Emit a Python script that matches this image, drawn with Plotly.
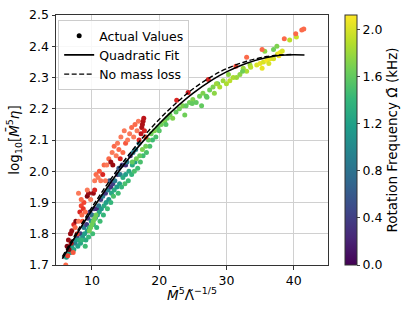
import plotly.graph_objects as go

# ---- red-coloured group (x, y, colour value on Reds scale) ----
red_x = [6.1, 6.3, 6.5, 6.6, 6.8, 6.9, 7.0, 6.4, 7.2, 7.3, 7.5, 7.6, 7.8, 8.0, 8.2, 8.4, 8.5, 8.7, 8.8, 8.6,
         9.0, 9.3, 9.5, 9.8, 10.2, 10.4, 10.6, 10.9, 11.1, 11.3, 11.6, 11.8, 12.0, 12.2, 12.5, 12.8, 13.0, 13.3,
         13.6, 13.8, 14.0, 14.2, 14.3, 14.6, 14.8, 15.0, 15.3, 15.6, 15.9, 16.2, 16.4, 16.7, 16.9, 17.0, 17.3,
         17.4, 17.5, 17.6, 17.7, 17.8, 18.0, 8.0, 8.4, 10.4, 13.1, 9.3,
         22.6, 24.3, 27.3, 31.4, 33.0, 35.3, 38.6, 40.3, 41.2, 41.5]
red_y = [1.70, 1.76, 1.78, 1.75, 1.80, 1.77, 1.81, 1.73, 1.74, 1.83, 1.82, 1.84, 1.80, 1.84, 1.87, 1.89, 1.86, 1.88, 1.90, 1.84,
         1.87, 1.92, 1.93, 1.91, 1.93, 1.97, 1.99, 1.98, 2.00, 1.97, 1.99, 2.02, 1.97, 2.02, 2.04, 2.03, 2.06, 2.08,
         2.05, 2.09, 2.07, 2.04, 2.11, 2.06, 2.13, 2.09, 2.10, 2.12, 2.14, 2.11, 2.15, 2.13, 2.16, 2.10, 2.12,
         2.14, 2.15, 2.16, 2.17, 2.13, 2.11, 1.93, 1.91, 1.94, 2.02, 1.94,
         2.227, 2.252, 2.294, 2.336, 2.365, 2.390, 2.424, 2.440, 2.452, 2.455]
red_v = [0.5, 0.95, 0.9, 0.95, 0.9, 0.85, 0.9, 0.6, 0.55, 0.7, 0.5, 0.95, 0.6, 0.45, 0.7, 0.6, 0.5, 0.65, 0.6, 0.55,
         0.5, 0.95, 0.9, 0.45, 0.9, 0.45, 0.5, 0.45, 0.55, 0.45, 0.7, 0.5, 0.45, 0.45, 0.5, 0.9, 0.45, 0.5,
         0.45, 0.45, 0.5, 0.7, 0.45, 0.5, 0.45, 0.55, 0.45, 0.45, 0.5, 0.45, 0.5, 0.45, 0.45, 0.7, 0.8,
         0.85, 0.85, 0.85, 0.8, 0.7, 0.6, 0.45, 0.5, 0.7, 0.9, 0.45,
         0.7, 0.75, 0.7, 0.6, 0.5, 0.5, 0.5, 0.5, 0.5, 0.5]

# ---- rotating group (x, y, rotation frequency in kHz) ----
rot_x = [7.5, 7.8, 8.3, 8.8, 9.2, 9.4, 9.7, 10.0, 10.3, 10.7, 11.0, 11.3, 11.6, 12.0, 12.4, 12.8, 13.1, 13.4, 13.8,
         14.2, 14.5, 15.0, 15.2, 15.7, 16.1, 16.5, 17.0, 14.0, 12.6,
         6.8, 7.0, 7.3, 7.6, 7.9, 8.1, 8.3, 8.6, 8.9, 9.1, 9.3, 9.6, 9.9, 10.2, 10.5, 10.8, 11.1, 11.4, 11.8,
         12.1, 12.5, 12.9, 13.3, 13.7, 14.1, 14.6, 15.0, 15.5, 16.0, 16.4, 6.2, 6.5,
         8.5, 9.0, 9.5, 10.1, 10.7, 11.2, 11.7, 12.3, 12.8, 13.2, 13.9, 14.4, 14.9, 15.4, 15.9, 16.3, 16.8,
         17.2, 17.6, 18.1, 18.6, 19.0, 19.5,
         9.6, 9.8, 10.0, 10.2, 10.4, 10.6,
         16.0, 16.6, 17.1, 17.5, 18.0, 18.4, 18.8, 19.3, 19.8, 20.3, 20.8, 21.2, 21.6, 22.0, 22.5, 23.0, 23.5,
         24.0, 24.5, 25.0, 25.5, 26.0, 26.5, 27.0, 27.5, 28.0, 21.0, 20.0, 23.8, 26.3, 27.1, 28.7, 24.9,
         28.5, 29.0, 29.5, 30.0, 30.5, 31.0, 31.5, 32.0, 32.5, 33.0, 33.5, 28.2, 30.3, 32.4,
         34.5, 35.0, 35.5, 36.0, 36.5, 37.0, 35.3, 36.3, 37.6, 38.0, 38.3, 37.8, 39.4, 40.4, 37.5, 35.7,
         37.0, 33.6]
rot_y = [1.77, 1.79, 1.80, 1.82, 1.83, 1.85, 1.87, 1.86, 1.88, 1.88, 1.89, 1.91, 1.92, 1.93, 1.94, 1.95, 1.96, 1.97, 1.99,
         1.99, 2.02, 2.02, 2.03, 2.05, 2.06, 2.07, 2.09, 2.01, 1.97,
         1.74, 1.76, 1.75, 1.78, 1.76, 1.78, 1.77, 1.79, 1.80, 1.78, 1.81, 1.82, 1.84, 1.83, 1.85, 1.86, 1.87, 1.88, 1.89,
         1.90, 1.91, 1.93, 1.94, 1.95, 1.96, 1.98, 1.99, 2.00, 2.02, 2.03, 1.725, 1.74,
         1.78, 1.76, 1.79, 1.80, 1.82, 1.84, 1.86, 1.88, 1.90, 1.92, 1.93, 1.95, 1.96, 1.97, 1.99, 2.00, 2.01,
         2.03, 2.05, 2.06, 2.08, 2.10, 2.11,
         1.81, 1.82, 1.83, 1.84, 1.85, 1.86,
         2.03, 2.04, 2.05, 2.07, 2.08, 2.10, 2.12, 2.13, 2.14, 2.15, 2.16, 2.17, 2.18, 2.17, 2.19, 2.20, 2.21,
         2.21, 2.22, 2.23, 2.22, 2.24, 2.25, 2.24, 2.26, 2.27, 2.15, 2.13, 2.18, 2.21, 2.237, 2.28, 2.217,
         2.28, 2.27, 2.29, 2.28, 2.29, 2.30, 2.30, 2.31, 2.33, 2.32, 2.34, 2.25, 2.31, 2.32,
         2.34, 2.345, 2.35, 2.355, 2.36, 2.36, 2.33, 2.345, 2.375, 2.38, 2.385, 2.37, 2.42, 2.43, 2.40, 2.384,
         2.39, 2.333]
rot_v = [0.9, 0.5, 0.35, 0.9, 0.4, 0.35, 0.3, 0.8, 0.45, 0.3, 0.85, 0.4, 0.9, 0.35, 0.9, 0.3, 0.4, 0.85, 0.35,
         0.9, 0.4, 0.3, 0.9, 0.35, 0.85, 0.95, 0.9, 0.6, 0.6,
         1.1, 1.2, 1.25, 1.1, 1.2, 1.3, 1.25, 1.1, 1.2, 1.3, 1.15, 1.25, 1.1, 1.3, 1.2, 1.1, 1.25, 1.15, 1.3,
         1.2, 1.1, 1.25, 1.3, 1.2, 1.15, 1.3, 1.2, 1.25, 1.3, 1.2, 1.15, 1.2,
         1.4, 1.45, 1.4, 1.45, 1.4, 1.45, 1.4, 1.45, 1.4, 1.5, 1.45, 1.4, 1.5, 1.45, 1.4, 1.5, 1.45,
         1.5, 1.45, 1.5, 1.5, 1.45, 1.5,
         1.65, 1.65, 1.65, 1.65, 1.65, 1.65,
         1.6, 1.65, 1.6, 1.7, 1.65, 1.6, 1.65, 1.7, 1.6, 1.65, 1.7, 1.6, 1.65, 1.7, 1.6, 1.65, 1.7,
         1.6, 1.65, 1.7, 1.6, 1.65, 1.7, 1.6, 1.65, 1.7, 1.55, 1.55, 1.65, 1.6, 1.6, 1.6, 1.6,
         1.8, 1.85, 1.8, 1.85, 1.9, 1.85, 1.8, 1.75, 1.8, 1.85, 1.8, 1.75, 1.75, 1.65,
         2.0, 2.05, 2.0, 2.1, 2.05, 2.0, 2.05, 2.0, 2.05, 2.1, 2.0, 2.1, 1.9, 1.95, 1.7, 1.75,
         1.65, 1.9]

# ---- fit curves ----
fit_x = [5.6, 8, 10, 12, 14, 16, 18, 20, 22, 25, 28, 30, 33, 36, 38, 40, 41.6]
fit_y = [1.720, 1.808, 1.876, 1.940, 2.000, 2.055, 2.106, 2.152, 2.194, 2.249, 2.294, 2.318, 2.346, 2.364, 2.371,
         2.373, 2.372]
nomass_x = [5.6, 8, 10, 12, 14, 16, 18, 20, 22, 25, 28, 30, 33, 36, 38, 40]
nomass_y = [1.727, 1.815, 1.885, 1.950, 2.011, 2.067, 2.119, 2.166, 2.208, 2.263, 2.306, 2.328, 2.352, 2.367,
            2.372, 2.374]

cbar_ticks = [0.0, 0.4, 0.8, 1.2, 1.6, 2.0]

FONT = "DejaVu Sans"
fig = go.Figure()

# legend entry for points
fig.add_trace(go.Scatter(x=[None], y=[None], mode="markers", name="Actual Values",
                         marker=dict(color="black", size=5)))

fig.add_trace(go.Scatter(x=rot_x, y=rot_y, mode="markers", showlegend=False,
                         marker=dict(size=5, color=rot_v, colorscale="Viridis", cmin=0, cmax=2.12,
                                     line=dict(width=0),
                                     colorbar=dict(
                                         x=1.0625, xanchor="left", y=0.5, yanchor="middle",
                                         xpad=0, ypad=0,
                                         len=1.0, lenmode="fraction", thickness=12, thicknessmode="pixels",
                                         tickvals=cbar_ticks, ticktext=[f"{t:.1f}" for t in cbar_ticks],
                                         ticks="outside", ticklen=3, outlinewidth=1, outlinecolor="#333",
                                         tickfont=dict(family=FONT, size=12.5, color="black"),
                                         title=dict(text="Rotation Frequency Ω\u0304 (kHz)", side="right",
                                                    font=dict(family=FONT, size=13.5, color="black")),
                                     ))))

fig.add_trace(go.Scatter(x=red_x, y=red_y, mode="markers", showlegend=False,
                         marker=dict(size=5, color=red_v, colorscale="Reds", cmin=0, cmax=1,
                                     line=dict(width=0), showscale=False)))

fig.add_trace(go.Scatter(x=fit_x, y=fit_y, mode="lines", name="Quadratic Fit",
                         line=dict(color="black", width=1.6, shape="spline")))
fig.add_trace(go.Scatter(x=nomass_x, y=nomass_y, mode="lines", name="No mass loss",
                         line=dict(color="black", width=1.4, dash="5px,2.5px", shape="spline")))

axis_common = dict(showgrid=True, gridcolor="#d0d0d0", gridwidth=1, showline=True, linecolor="#333",
                   linewidth=1, mirror=True, ticks="outside", ticklen=3.5, tickcolor="#333", zeroline=False,
                   tickfont=dict(family=FONT, size=12.5, color="black"))

fig.update_layout(
    width=415, height=311,
    margin=dict(l=56, r=87, t=15, b=46, autoexpand=False),
    paper_bgcolor="white", plot_bgcolor="white",
    font=dict(family=FONT, color="black"),
    xaxis=dict(range=[4.65, 45.1], tickvals=[10, 20, 30, 40], **axis_common),
    yaxis=dict(range=[1.7, 2.5], tickvals=[1.7, 1.8, 1.9, 2.0, 2.1, 2.2, 2.3, 2.4, 2.5],
               tickformat=".1f",
               title=dict(text="log<sub>10</sub>[<i>M\u0304</i><sup>5</sup><i>η</i>]", standoff=6,
                          font=dict(family=FONT, size=13.5)),
               **axis_common),
    legend=dict(x=0.008, y=0.98, xanchor="left", yanchor="top", bgcolor="rgba(255,255,255,0.85)",
                bordercolor="#cccccc", borderwidth=1, font=dict(family=FONT, size=12.5),
                tracegroupgap=0, itemwidth=30),
    showlegend=True,
    annotations=[dict(text="<i>M\u0304</i><sup>5</sup>Λ\u0303<sup>−1/5</sup>", xref="paper", yref="paper",
                      x=0.5, y=-0.118, xanchor="center", yanchor="middle", showarrow=False,
                      font=dict(family=FONT, size=13.5, color="black"))],
)

fig.write_html("out.html", config={"displayModeBar": False},
               post_script="document.body.style.margin='0px';")
